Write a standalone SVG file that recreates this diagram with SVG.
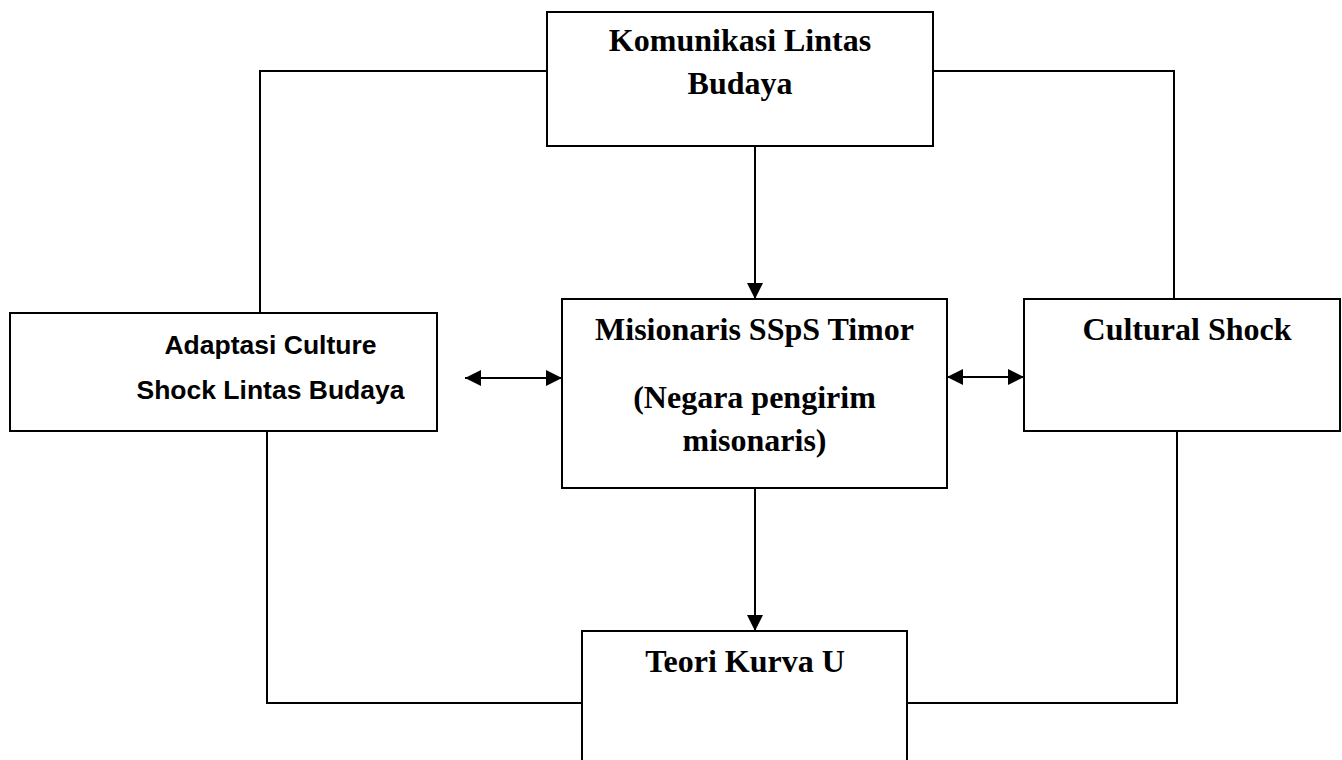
<svg xmlns="http://www.w3.org/2000/svg" width="1342" height="760" viewBox="0 0 1342 760">
  <style>
    .box { fill: #ffffff; stroke: #000000; stroke-width: 2; }
    .line { fill: none; stroke: #000000; stroke-width: 2; }
    .serif { font-family: "Liberation Serif", "Times New Roman", serif; font-weight: bold; font-size: 32px; fill: #000000; text-anchor: middle; }
    .sans { font-family: "Liberation Sans", Arial, sans-serif; font-weight: bold; font-size: 26.5px; fill: #000000; text-anchor: middle; }
  </style>
  <defs>
    <marker id="arrow" viewBox="0 0 16 16" markerWidth="16" markerHeight="16" refX="16" refY="8" orient="auto-start-reverse" markerUnits="userSpaceOnUse">
      <path d="M0,0 L16,8 L0,16 Z" fill="#000000"/>
    </marker>
  </defs>
  <rect width="1342" height="760" fill="#ffffff"/>

  <g id="connectors">
    <polyline class="line" points="260,313 260,71 547,71"/>
    <polyline class="line" points="933,71 1174,71 1174,299"/>
    <polyline class="line" points="267,431 267,703 582,703"/>
    <polyline class="line" points="907,703 1177,703 1177,431"/>
    <line class="line" x1="755" y1="146" x2="755" y2="299" marker-end="url(#arrow)"/>
    <line class="line" x1="755" y1="488" x2="755" y2="631" marker-end="url(#arrow)"/>
    <line class="line" x1="465" y1="378" x2="562" y2="378" marker-start="url(#arrow)" marker-end="url(#arrow)"/>
    <line class="line" x1="947" y1="377" x2="1024" y2="377" marker-start="url(#arrow)" marker-end="url(#arrow)"/>
  </g>

  <g id="node-komunikasi">
    <rect class="box" x="547" y="12" width="386" height="134"/>
    <text class="serif" x="740" y="51">Komunikasi Lintas</text>
    <text class="serif" x="740" y="94">Budaya</text>
  </g>

  <g id="node-adaptasi">
    <rect class="box" x="10" y="313" width="427" height="118"/>
    <text class="sans" x="270.5" y="354">Adaptasi Culture</text>
    <text class="sans" x="270.5" y="399">Shock Lintas Budaya</text>
  </g>

  <g id="node-misionaris">
    <rect class="box" x="562" y="299" width="385" height="189"/>
    <text class="serif" x="754.5" y="340">Misionaris SSpS Timor</text>
    <text class="serif" x="754.5" y="408">(Negara pengirim</text>
    <text class="serif" x="754.5" y="451">misonaris)</text>
  </g>

  <g id="node-cultural-shock">
    <rect class="box" x="1024" y="299" width="316" height="132"/>
    <text class="serif" x="1187" y="340">Cultural Shock</text>
  </g>

  <g id="node-teori">
    <rect class="box" x="582" y="631" width="325" height="140"/>
    <text class="serif" x="745" y="672">Teori Kurva U</text>
  </g>
</svg>
